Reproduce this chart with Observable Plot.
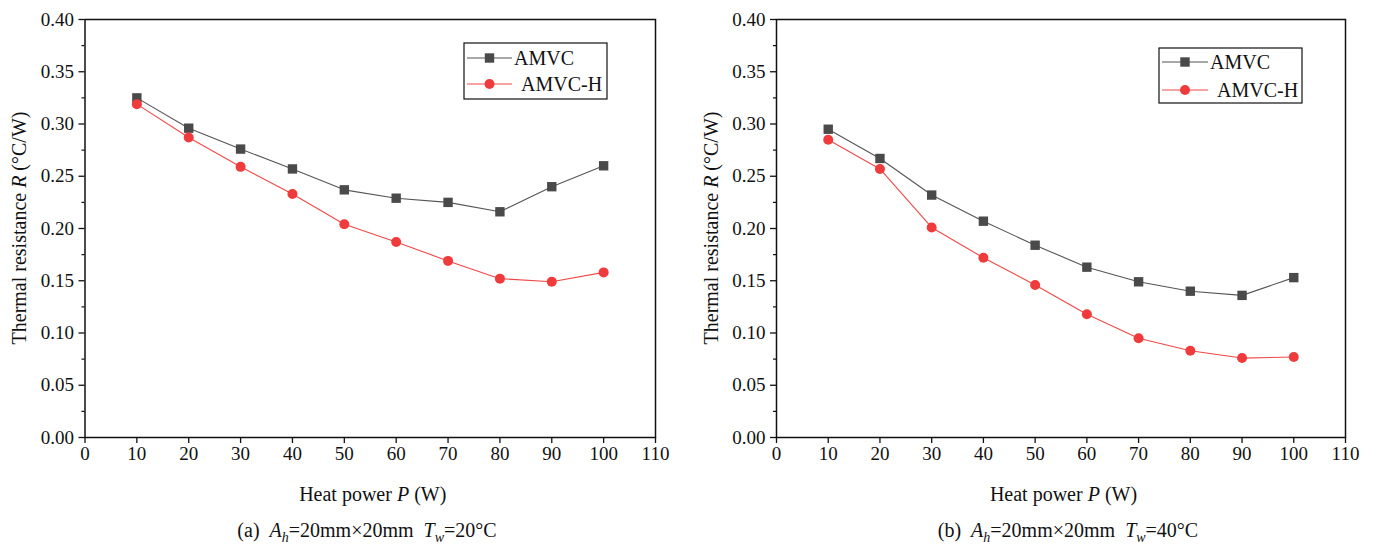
<!DOCTYPE html>
<html>
<head>
<meta charset="utf-8">
<script src="https://cdn.jsdelivr.net/npm/d3@7"></script>
<script src="https://cdn.jsdelivr.net/npm/@observablehq/plot@0.6"></script>
<style>
  body { margin: 0; background: #fff; }
  #wrap { position: relative; width: 1376px; height: 547px; font-family: "Liberation Serif", "Times New Roman", serif; }
  .panel { position: absolute; top: 0; }
  .panel svg, .panel svg text, .panel svg tspan { font-family: "Liberation Serif", "Times New Roman", serif !important; }
  .cap { position: absolute; font-size: 20px; color: #111; white-space: nowrap; text-align: center; line-height: 24px; }
  .cap sub { font-size: 14px; vertical-align: -5px; line-height: 0; }
</style>
</head>
<body>
<div id="wrap"></div>
<script>
// ---- data ----
const power = [10, 20, 30, 40, 50, 60, 70, 80, 90, 100];
const amvcA  = [0.325, 0.296, 0.276, 0.257, 0.237, 0.229, 0.225, 0.216, 0.240, 0.260];
const amvcHA = [0.319, 0.287, 0.259, 0.233, 0.204, 0.187, 0.169, 0.152, 0.149, 0.158];
const amvcB  = [0.295, 0.267, 0.232, 0.207, 0.184, 0.163, 0.149, 0.140, 0.136, 0.153];
const amvcHB = [0.285, 0.257, 0.201, 0.172, 0.146, 0.118, 0.095, 0.083, 0.076, 0.077];
const seriesNames = ["AMVC", "AMVC-H"];
const xTicks = [0, 10, 20, 30, 40, 50, 60, 70, 80, 90, 100, 110];
const yTicks = [0.00, 0.05, 0.10, 0.15, 0.20, 0.25, 0.30, 0.35, 0.40];
const yMinor = [0.025, 0.075, 0.125, 0.175, 0.225, 0.275, 0.325, 0.375];
const captions = [
  {tag: "(a)", tw: "20°C"},
  {tag: "(b)", tw: "40°C"}
];

const grayLine = "#555555", grayFill = "#4a4a4a";
const redLine = "#f04848", redFill = "#ef3b3b";
const FONT = '"Liberation Serif", "Times New Roman", serif';

function makePanel(amvc, amvcH, opts) {
  const rowsA = power.map((p, i) => ({p, r: amvc[i]}));
  const rowsH = power.map((p, i) => ({p, r: amvcH[i]}));
  const W = 688, H = 512, mt = 19, mb = H - 437;
  const svg = Plot.plot({
    width: W, height: H,
    marginLeft: opts.ml, marginRight: opts.mr, marginTop: mt, marginBottom: mb,
    x: {domain: [0, 110]},
    y: {domain: [0, 0.4]},
    style: {fontSize: "19px", color: "#111", background: "white", overflow: "visible"},
    marks: [
      Plot.axisX(xTicks, {tickSize: 6, tickPadding: 3, label: null, fontSize: 19, fontFamily: FONT, strokeWidth: 1.3}),
      Plot.axisY(yTicks, {tickSize: 6, tickPadding: 5, tickFormat: d3.format(".2f"), label: null, fontSize: 19, fontFamily: FONT, strokeWidth: 1.3}),
      Plot.axisY(yMinor, {tickSize: 3, tickFormat: () => "", label: null, strokeWidth: 1.2}),
      Plot.frame({stroke: "#111", strokeWidth: 1.5}),
      Plot.line(rowsA, {x: "p", y: "r", stroke: grayLine, strokeWidth: 1.1}),
      Plot.dot(rowsA, {x: "p", y: "r", symbol: "square", fill: grayFill, r: 5.3}),
      Plot.line(rowsH, {x: "p", y: "r", stroke: redLine, strokeWidth: 1.1}),
      Plot.dot(rowsH, {x: "p", y: "r", symbol: "circle", fill: redFill, r: 5})
    ]
  });
  const s = d3.select(svg);
  s.attr("font-family", FONT).style("font-family", FONT);
  const x0 = opts.ml, x1 = W - opts.mr;
  // y label
  const yl = s.append("text")
    .attr("transform", `translate(${opts.yLabelX},${(mt + 437) / 2}) rotate(-90)`)
    .attr("text-anchor", "middle").attr("font-size", 20).attr("fill", "#111");
  yl.append("tspan").text("Thermal resistance ");
  yl.append("tspan").attr("font-style", "italic").text("R");
  yl.append("tspan").text(" (°C/W)");
  // x label
  const xl = s.append("text")
    .attr("x", (x0 + x1) / 2 + 3).attr("y", 501)
    .attr("text-anchor", "middle").attr("font-size", 20).attr("fill", "#111");
  xl.append("tspan").text("Heat power ");
  xl.append("tspan").attr("font-style", "italic").text("P");
  xl.append("tspan").text(" (W)");
  // legend
  const L = opts.legend;
  const g = s.append("g");
  g.append("rect").attr("x", L.x).attr("y", L.y).attr("width", L.w).attr("height", L.h)
    .attr("fill", "white").attr("stroke", "#111").attr("stroke-width", 1.2);
  const rows = [
    {name: seriesNames[0], line: grayLine, fill: grayFill, sym: "sq", dy: L.r1, tx: L.t1},
    {name: seriesNames[1], line: redLine, fill: redFill, sym: "ci", dy: L.r2, tx: L.t2}
  ];
  rows.forEach(rw => {
    g.append("line").attr("x1", L.lx1).attr("x2", L.lx2).attr("y1", rw.dy).attr("y2", rw.dy)
      .attr("stroke", rw.line).attr("stroke-width", 1.1);
    const mx = (L.lx1 + L.lx2) / 2;
    if (rw.sym === "sq") {
      g.append("rect").attr("x", mx - 4.7).attr("y", rw.dy - 4.7).attr("width", 9.4).attr("height", 9.4).attr("fill", rw.fill);
    } else {
      g.append("circle").attr("cx", mx).attr("cy", rw.dy).attr("r", 5).attr("fill", rw.fill);
    }
    g.append("text").attr("x", rw.tx).attr("y", rw.dy + 7).attr("text-anchor", "start")
      .attr("font-size", 20).attr("fill", "#111").text(rw.name);
  });
  s.selectAll("text").style("font-family", FONT);
  return svg;
}

const wrap = document.getElementById("wrap");
const panels = [
  {amvc: amvcA, amvcH: amvcHA, left: 0, ml: 84.5, mr: 33, yLabelX: 26,
   legend: {x: 464, y: 43, w: 143, h: 56, r1: 58, r2: 84, lx1: 467, lx2: 512, t1: 514, t2: 521}},
  {amvc: amvcB, amvcH: amvcHB, left: 688, ml: 88, mr: 31, yLabelX: 30,
   legend: {x: 471, y: 48, w: 143, h: 55, r1: 62, r2: 90, lx1: 474, lx2: 520, t1: 522, t2: 529}}
];
panels.forEach((P, i) => {
  const div = document.createElement("div");
  div.className = "panel";
  div.style.left = P.left + "px";
  div.appendChild(makePanel(P.amvc, P.amvcH, P));
  wrap.appendChild(div);
  const cap = document.createElement("div");
  cap.className = "cap";
  const cx = i === 0 ? 367 : 1068;
  cap.style.left = (cx - 200) + "px";
  cap.style.width = "400px";
  cap.style.top = "518px";
  cap.innerHTML = `${captions[i].tag}&nbsp; <i>A</i><sub><i>h</i></sub>=20mm×20mm&nbsp; <i>T</i><sub><i>w</i></sub>=${captions[i].tw}`;
  wrap.appendChild(cap);
});
</script>
</body>
</html>
